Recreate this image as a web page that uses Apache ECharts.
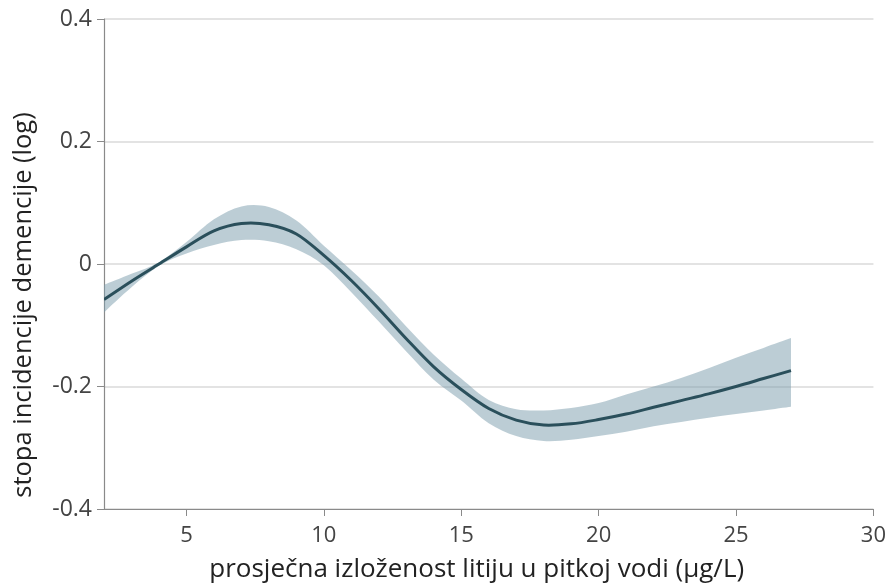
<!DOCTYPE html>
<html><head><meta charset="utf-8">
<script src="https://cdn.jsdelivr.net/npm/echarts@6/dist/echarts.min.js"></script>
<style>html,body{margin:0;padding:0;background:#fff}#c{width:889px;height:588px}</style>
</head><body><div id="c"></div>
<script>
const xVals = [2, 3, 4, 5, 6, 7, 8, 9, 10, 11, 12, 13, 14, 15, 16, 17, 18, 19, 20, 21, 22, 23, 24, 25, 26, 27];
const fitVals = [-0.058, -0.028, 0.000, 0.028, 0.054, 0.066, 0.064, 0.049, 0.014, -0.027, -0.073, -0.122, -0.168, -0.205, -0.236, -0.255, -0.263, -0.261, -0.254, -0.245, -0.234, -0.223, -0.212, -0.200, -0.187, -0.174];
const upperVals = [-0.034, -0.016, 0.003, 0.036, 0.073, 0.094, 0.093, 0.071, 0.030, -0.010, -0.053, -0.102, -0.148, -0.187, -0.222, -0.237, -0.239, -0.235, -0.227, -0.213, -0.200, -0.186, -0.170, -0.153, -0.137, -0.121];
const lowerVals = [-0.079, -0.038, -0.003, 0.017, 0.031, 0.039, 0.037, 0.024, -0.002, -0.046, -0.094, -0.143, -0.189, -0.223, -0.260, -0.281, -0.289, -0.287, -0.281, -0.274, -0.265, -0.258, -0.251, -0.245, -0.239, -0.233];
const xTicks = [5, 10, 15, 20, 25, 30];
const xTitle = 'prosječna izloženost litiju u pitkoj vodi (µg/L)';
const yTitle = 'stopa incidencije demencije (log)';

const fitData = xVals.map((x, i) => [x, fitVals[i]]);

function splinePath(pts, moveFirst) {
  let d = (moveFirst ? 'M' : 'L') + pts[0][0] + ' ' + pts[0][1];
  for (let i = 0; i < pts.length - 1; i++) {
    const p0 = pts[Math.max(i - 1, 0)], p1 = pts[i], p2 = pts[i + 1], p3 = pts[Math.min(i + 2, pts.length - 1)];
    const c1 = [p1[0] + (p2[0] - p0[0]) / 6, p1[1] + (p2[1] - p0[1]) / 6];
    const c2 = [p2[0] - (p3[0] - p1[0]) / 6, p2[1] - (p3[1] - p1[1]) / 6];
    d += 'C' + c1[0] + ' ' + c1[1] + ' ' + c2[0] + ' ' + c2[1] + ' ' + p2[0] + ' ' + p2[1];
  }
  return d;
}

function renderBand(params, api) {
  const up = xVals.map((x, i) => api.coord([x, upperVals[i]]));
  const lo = xVals.map((x, i) => api.coord([x, lowerVals[i]])).reverse();
  const d = splinePath(up, true) + splinePath(lo, false) + 'Z';
  return {type: 'path', shape: {pathData: d}, style: {fill: 'rgba(121,155,171,0.5)', stroke: null}, silent: true};
}

function renderFit(params, api) {
  const pts = xVals.map((x, i) => api.coord([x, fitVals[i]]));
  return {type: 'path', shape: {pathData: splinePath(pts, true)},
    style: {fill: null, stroke: '#2a4f5b', lineWidth: 3, lineJoin: 'round', lineCap: 'butt'}, silent: true};
}

const chart = echarts.init(document.getElementById('c'), null, {renderer: 'canvas'});
chart.setOption({
  animation: false,
  backgroundColor: '#fff',
  grid: {left: 104, right: 14, top: 19, bottom: 73, containLabel: false},
  xAxis: {
    type: 'value', min: 2, max: 30,
    axisLine: {show: true, onZero: false, lineStyle: {color: '#8a8a8a', width: 1.2}},
    axisTick: {show: true, length: 7, lineStyle: {color: '#8a8a8a'}, customValues: xTicks},
    axisLabel: {customValues: xTicks, color: '#444', fontSize: 22, fontFamily: 'Open Sans, sans-serif', margin: 16},
    splitLine: {show: false},
    name: xTitle, nameLocation: 'middle', nameGap: 48,
    nameTextStyle: {color: '#222', fontSize: 26, fontFamily: 'Open Sans, sans-serif', padding: [0, 24, 0, 0]}
  },
  yAxis: {
    type: 'value', min: -0.4, max: 0.4, interval: 0.2,
    axisLine: {show: true, onZero: false, lineStyle: {color: '#8a8a8a', width: 1.2}},
    axisTick: {show: true, length: 7, lineStyle: {color: '#8a8a8a'}},
    axisLabel: {color: '#444', fontSize: 23, fontFamily: 'Open Sans, sans-serif', margin: 12,
      formatter: v => (Math.abs(v) < 1e-9 ? '0' : String(+v.toFixed(1)))},
    splitLine: {show: true, lineStyle: {color: '#e3e3e3', width: 2}},
    name: yTitle, nameLocation: 'middle', nameGap: 67, nameRotate: 90,
    nameTextStyle: {color: '#222', fontSize: 25.5, fontFamily: 'Open Sans, sans-serif', padding: [0, 82, 0, 0]}
  },
  series: [
    {type: 'custom', renderItem: renderBand, data: [0], silent: true, z: 2, clip: true},
    {type: 'custom', renderItem: renderFit, data: [0], silent: true, z: 5, clip: true}
  ]
});
</script></body></html>
